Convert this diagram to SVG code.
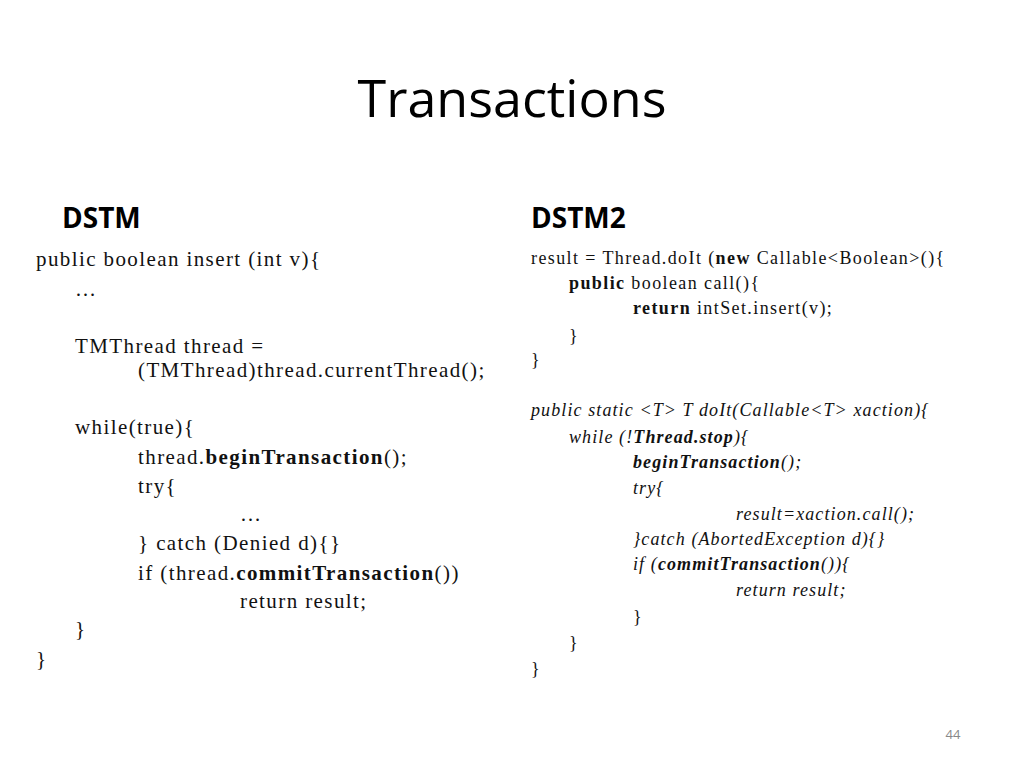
<svg xmlns="http://www.w3.org/2000/svg" width="1024" height="768" viewBox="0 0 1024 768">
<style>
.t{font-family:"Open Sans","Liberation Sans",sans-serif;fill:#000}
.h{font-family:"Open Sans","Liberation Sans",sans-serif;font-weight:bold;font-size:28px}
.l{font-family:"Liberation Serif",serif;font-size:21px;letter-spacing:1.4px;fill:#111}
.r{font-family:"Liberation Serif",serif;font-size:18px;letter-spacing:1.4px;fill:#111}
.i{font-style:italic;letter-spacing:1.1px}
</style>
<rect width="1024" height="768" fill="#fff"/>
<text class="t" x="512" y="117" font-size="52" text-anchor="middle">Transactions</text>
<g id="left">
<text class="h" x="62" y="228">DSTM</text>
<text class="l" x="36" y="266">public boolean insert (int v){</text>
<text class="l" x="75" y="296">…</text>
<text class="l" x="75" y="353">TMThread thread =</text>
<text class="l" x="138" y="377">(TMThread)thread.currentThread();</text>
<text class="l" x="75" y="434">while(true){</text>
<text class="l" x="138" y="464">thread.<tspan font-weight="bold">beginTransaction</tspan>();</text>
<text class="l" x="138" y="493">try{</text>
<text class="l" x="240" y="521">…</text>
<text class="l" x="138" y="550">} catch (Denied d){}</text>
<text class="l" x="138" y="580">if  (thread.<tspan font-weight="bold">commitTransaction</tspan>())</text>
<text class="l" x="240" y="608">return result;</text>
<text class="l" x="75" y="636">}</text>
<text class="l" x="36" y="666">}</text>
</g>
<g id="right">
<text class="h" x="531" y="228">DSTM2</text>
<text class="r" x="531" y="264">result = Thread.doIt (<tspan font-weight="bold">new</tspan> Callable&lt;Boolean&gt;(){</text>
<text class="r" x="569" y="289"><tspan font-weight="bold">public</tspan> boolean call(){</text>
<text class="r" x="633" y="314"><tspan font-weight="bold">return</tspan> intSet.insert(v);</text>
<text class="r" x="569" y="342">}</text>
<text class="r" x="531" y="366">}</text>
<text class="r i" x="531" y="416">public static &lt;T&gt; T doIt(Callable&lt;T&gt; xaction){</text>
<text class="r i" x="569" y="443">while (!<tspan font-weight="bold">Thread.stop</tspan>){</text>
<text class="r i" x="633" y="468"><tspan font-weight="bold">beginTransaction</tspan>();</text>
<text class="r i" x="633" y="494">try{</text>
<text class="r i" x="736" y="520">result=xaction.call();</text>
<text class="r i" x="633" y="545">}catch (AbortedException d){}</text>
<text class="r i" x="633" y="570">if  (<tspan font-weight="bold">commitTransaction</tspan>()){</text>
<text class="r i" x="736" y="596">return result;</text>
<text class="r" x="633" y="623">}</text>
<text class="r" x="569" y="649">}</text>
<text class="r" x="531" y="675">}</text>
</g>
<text x="953" y="739" font-family="Open Sans, sans-serif" font-size="13" fill="#888" text-anchor="middle">44</text>
</svg>
